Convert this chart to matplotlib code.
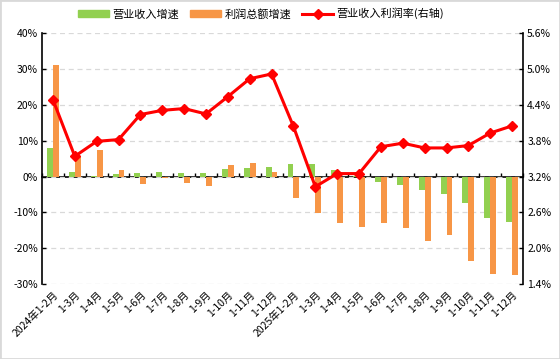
import matplotlib
matplotlib.use("Agg")
import matplotlib.pyplot as plt
import numpy as np
from matplotlib.patches import Patch, Rectangle
from matplotlib.lines import Line2D

plt.rcParams['font.family'] = ['Noto Sans CJK SC', 'DejaVu Sans']

labels = ["2024年1-2月", "1-3月", "1-4月", "1-5月", "1-6月", "1-7月", "1-8月", "1-9月",
          "1-10月", "1-11月", "1-12月",
          "2025年1-2月", "1-3月", "1-4月", "1-5月", "1-6月", "1-7月", "1-8月", "1-9月",
          "1-10月", "1-11月", "1-12月"]
revenue_growth = [7.9, 1.4, 0.3, 0.6, 1.1, 1.4, 1.1, 1.1, 2.0, 2.5, 2.8,
                  3.4, 3.4, 1.7, 0.3, -1.6, -2.3, -3.7, -4.9, -7.4, -11.6, -12.7]
profit_growth = [31.1, 5.6, 7.3, 1.7, -2.1, -0.5, -1.9, -2.7, 3.1, 3.9, 1.4,
                 -6.0, -10.2, -13.0, -14.1, -13.0, -14.4, -18.0, -16.4, -23.6, -27.3, -27.6]
profit_margin = [4.49, 3.54, 3.79, 3.82, 4.24, 4.31, 4.34, 4.25, 4.54, 4.84, 4.92,
                 4.04, 3.03, 3.25, 3.25, 3.70, 3.76, 3.68, 3.68, 3.72, 3.93, 4.05]

green = "#92D050"
orange = "#F79646"
red = "#FF0000"

fig = plt.figure(figsize=(5.6, 3.59), dpi=100)
ax = fig.add_axes([0.075, 0.209, 0.859, 0.698])
x = np.arange(len(labels))

ax.bar(x - 0.135, revenue_growth, width=0.27, color=green, zorder=2)
ax.bar(x + 0.135, profit_growth, width=0.27, color=orange, zorder=2)

ax.set_xlim(-0.5, len(labels) - 0.5)
ax.set_ylim(-30, 40)
ax.set_yticks(range(-30, 41, 10))
ax.set_yticklabels([f"{v}%" for v in range(-30, 41, 10)], fontsize=7.5)
ax.yaxis.grid(True, linestyle=(0, (4, 3)), color="#d9d9d9", lw=0.9, zorder=0)
ax.tick_params(axis='y', direction='in', length=3, width=1, pad=3)

ax.set_xticks(x)
ax.set_xticklabels(labels, rotation=45, ha='right', rotation_mode='anchor', fontsize=7.5)
ax.tick_params(axis='x', length=0, pad=4)
for s in ['top', 'bottom', 'right']:
    ax.spines[s].set_visible(False)
ax.spines['left'].set_linewidth(1.2)

# zero line with category tick marks
zero = ax.secondary_xaxis(30 / 70)
zero.set_xticks(np.arange(-0.5, len(labels), 1.0))
zero.tick_params(direction='in', length=3, width=1, labelbottom=False)
zero.spines['bottom'].set_linewidth(1.2)

ax2 = ax.twinx()
ax2.plot(x, profit_margin, color=red, lw=2.2, marker='D', ms=5.5, zorder=5)
ax2.set_ylim(1.4, 5.6)
rt = np.round(np.arange(1.4, 5.61, 0.6), 1)
ax2.set_yticks(rt)
ax2.set_yticklabels([f"{v:.1f}%" for v in rt], fontsize=7.5)
ax2.tick_params(axis='y', direction='in', length=3, width=1, pad=3)
for s in ['top', 'bottom', 'left']:
    ax2.spines[s].set_visible(False)
ax2.spines['right'].set_linewidth(1.2)

handles = [Patch(color=green), Patch(color=orange),
           Line2D([], [], color=red, lw=2.2, marker='D', ms=5)]
fig.legend(handles, ["营业收入增速", "利润总额增速", "营业收入利润率(右轴)"],
           loc='center', bbox_to_anchor=(0.466, 0.962), ncol=3, frameon=False,
           fontsize=8, handlelength=2.8, handleheight=0.6, columnspacing=1.0,
           handletextpad=0.3)

fig.add_artist(Rectangle((0, 0), 1, 1, transform=fig.transFigure, fill=False,
                         ec="#d9d9d9", lw=2))

fig.savefig("out.png", dpi=100)
